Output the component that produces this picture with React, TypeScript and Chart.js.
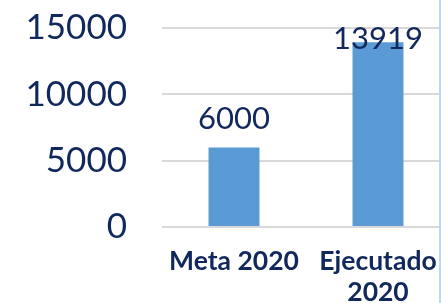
import React, { useEffect, useRef } from "react";
import { Chart, registerables } from "chart.js";

Chart.register(...registerables);

const categories: (string | string[])[] = ["Meta 2020", ["Ejecutado", "2020"]];
const values: number[] = [6000, 13919];
const yTicks: number[] = [0, 5000, 10000, 15000];

const TEXT = "#10285C";
const FONT = "Lato, 'Open Sans', sans-serif";

const dataLabelPlugin = {
  id: "dataLabels",
  afterDatasetsDraw(chart: any) {
    const { ctx, chartArea } = chart;
    const meta = chart.getDatasetMeta(0);
    ctx.save();
    ctx.font = `400 31px ${FONT}`;
    ctx.fillStyle = TEXT;
    ctx.textAlign = "center";
    ctx.textBaseline = "alphabetic";
    meta.data.forEach((bar: any, i: number) => {
      const base = Math.max(bar.y - 18, chartArea.top + 21);
      ctx.fillText(String(values[i]), bar.x, base);
    });
    ctx.restore();
  },
};

export default function App() {
  const ref = useRef<HTMLCanvasElement>(null);
  useEffect(() => {
    if (!ref.current) return;
    const chart = new Chart(ref.current, {
      type: "bar",
      data: {
        labels: categories,
        datasets: [
          {
            data: values,
            backgroundColor: "#5B9BD5",
            barPercentage: 1,
            categoryPercentage: 0.354,
          },
        ],
      },
      options: {
        animation: false,
        responsive: false,
        maintainAspectRatio: false,
        layout: { padding: { top: 28, right: 0, left: 0, bottom: 0 } },
        plugins: {
          legend: { display: false },
          tooltip: { enabled: false },
        },
        scales: {
          x: {
            grid: { display: false, drawTicks: false },
            border: { display: false },
            ticks: {
              color: TEXT,
              font: { family: FONT, size: 26.5, weight: "bold", lineHeight: 1.17 },
              padding: 19,
              maxRotation: 0,
              autoSkip: false,
            },
            afterFit: (s: any) => {
              s.height = 76;
              s.paddingLeft = 0;
              s.paddingRight = 0;
            },
          },
          y: {
            min: 0,
            max: 15000,
            afterBuildTicks: (s: any) => {
              s.ticks = yTicks.map((v) => ({ value: v }));
            },
            grid: { color: "#D9D9D9", lineWidth: 2, drawTicks: false },
            border: { display: false },
            ticks: {
              color: TEXT,
              font: { family: FONT, size: 35, weight: "normal" },
              padding: 35,
              callback: (v: any) => String(v),
            },
            afterFit: (s: any) => {
              s.width = 162;
              s.paddingTop = 0;
              s.paddingBottom = 0;
            },
          },
        },
      },
      plugins: [dataLabelPlugin],
    });
    return () => chart.destroy();
  }, []);
  return (
    <div
      style={{
        position: "fixed",
        left: 0,
        top: 0,
        width: 441,
        height: 303,
        overflow: "hidden",
        background: "#FFFFFF",
      }}
    >
      <canvas ref={ref} width={450} height={303} style={{ display: "block" }} />
      <div
        style={{
          position: "absolute",
          left: 439,
          top: 0,
          width: 2,
          height: 303,
          background: "#BDD7EE",
        }}
      />
    </div>
  );
}
